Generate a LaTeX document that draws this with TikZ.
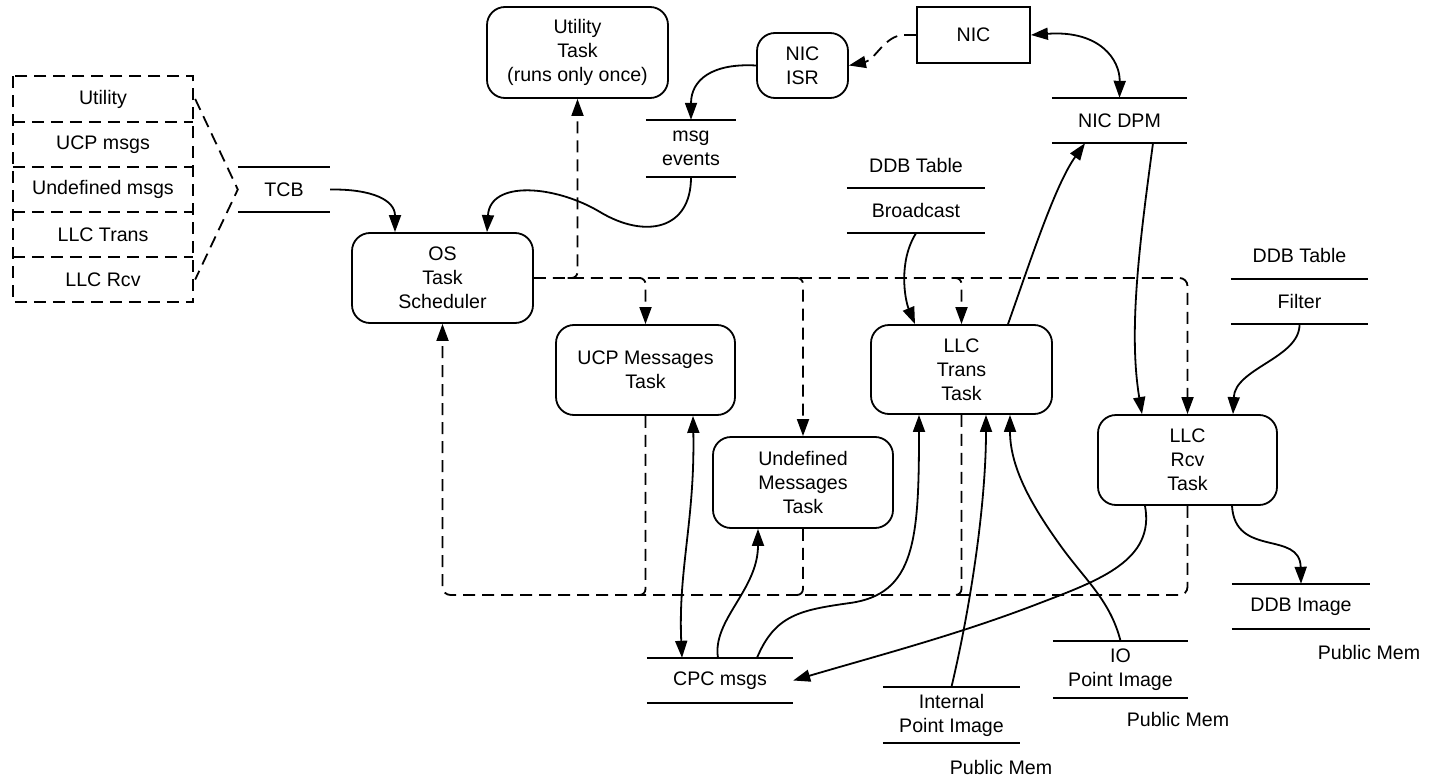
\documentclass[tikz,border=0pt]{standalone}
\usepackage{fontspec}
\setmainfont{Liberation Sans}
\usetikzlibrary{arrows.meta,calc}
\begin{document}
\begin{tikzpicture}[x=1pt,y=-1pt,
  ln/.style={line width=1.8pt},
  dsh/.style={ln,dash pattern=on 12pt off 7pt},
  tip/.style={-{Triangle[length=17pt,width=12pt]}},
  btip/.style={{Triangle[length=17pt,width=12pt]}-{Triangle[length=17pt,width=12pt]}},
  txt/.style={font=\fontsize{19.6}{24}\selectfont, align=center, inner sep=0pt},
  task/.style={txt,draw,ln,rounded corners=18pt},
  store/.style={txt},
  row/.style={txt,minimum width=180pt,minimum height=45pt}
]
\useasboundingbox (0,0) rectangle (1429,781);

% task boxes
\node[task,minimum width=181pt,minimum height=90pt] (os) at (442.5,278) {OS\\Task\\Scheduler};
\node[task,minimum width=181pt,minimum height=91pt] (util) at (577.5,52.5) {Utility\\Task\\(runs only once)};
\node[task,minimum width=91pt,minimum height=65pt] (isr) at (802.5,65.5) {NIC\\ISR};
\node[txt,draw,ln,minimum width=113pt,minimum height=56pt] (nic) at (973.5,35) {NIC};
\node[task,minimum width=179pt,minimum height=90pt] (ucp) at (645.5,370) {UCP Messages\\Task};
\node[task,minimum width=180pt,minimum height=91pt] (undef) at (803,482.5) {Undefined\\Messages\\Task};
\node[task,minimum width=181pt,minimum height=89pt] (llct) at (961.5,369.5) {LLC\\Trans\\Task};
\node[task,minimum width=179pt,minimum height=90pt] (llcr) at (1187.5,460) {LLC\\Rcv\\Task};

% stores
\node[store,minimum width=92pt,minimum height=45pt] (tcb) at (284,189.5) {TCB};
\node[store,minimum width=90pt,minimum height=57pt] (msg) at (691,148.5) {msg\\events};
\node[store,minimum width=135pt,minimum height=45pt] (dpm) at (1119.5,120.5) {NIC DPM};
\node[store,minimum width=138pt,minimum height=45pt] (bc) at (916,210.5) {Broadcast};
\node[txt] (bct) at (916,165) {DDB Table};
\node[store,minimum width=137pt,minimum height=45pt] (flt) at (1299.5,301.5) {Filter};
\node[txt] (fltt) at (1299.5,255) {DDB Table};
\node[store,minimum width=138pt,minimum height=45pt] (img) at (1301,606.5) {DDB Image};
\node[txt] (imgm) at (1369,652) {Public Mem};
\node[store,minimum width=146pt,minimum height=45pt] (cpc) at (720,680.5) {CPC msgs};
\node[store,minimum width=137pt,minimum height=56pt] (ipi) at (951.5,715) {Internal\\Point Image};
\node[txt] (ipim) at (1001,767) {Public Mem};
\node[store,minimum width=135pt,minimum height=57pt] (iop) at (1120.5,669.5) {IO\\Point Image};
\node[txt] (iopm) at (1178,719) {Public Mem};
\foreach \n in {tcb,msg,dpm,bc,flt,img,cpc,ipi,iop}
  \draw[ln] (\n.north west) -- (\n.north east) (\n.south west) -- (\n.south east);

% TCB stack
\node[row] (sU) at (103,99) {Utility};
\node[row] (sC) at (103,144.5) {UCP msgs};
\node[row] (sD) at (103,189.5) {Undefined msgs};
\node[row] (sT) at (103,234.5) {LLC Trans};
\node[row] (sR) at (103,279.5) {LLC Rcv};
\draw[dsh] (sU.north west) rectangle (sR.south east);
\foreach \n in {sC,sD,sT,sR} \draw[dsh] (\n.north west) -- (\n.north east);
\draw[dsh] ([xshift=2pt]sU.east) -- (tcb.west) -- ([xshift=2pt]sR.east);

% solid connectors
\draw[ln,tip] (tcb.east) .. controls (372,189) and (395,200) .. ([xshift=-47.5pt]os.north);
\draw[ln,tip] (msg.south) .. controls (691,230) and (645,239) .. (600,212)
   .. controls (555,185) and (490,180) .. ([xshift=44.5pt]os.north);
\draw[ln,tip] (isr.west) .. controls (712,63) and (691,80) .. (msg.north);
\draw[dsh,tip] (nic.west) -- ++(-12,0) .. controls (885,35) and (875,60) .. (isr.east);
\draw[ln,btip] (nic.east) .. controls (1100,30) and (1120,60) .. (dpm.north);
\draw[ln,tip] (bc.south) .. controls (898,262) and (905,300) .. ([xshift=-46.5pt]llct.north);
\draw[ln,tip] ([xshift=46.5pt]llct.north) .. controls (1030,262) and (1055,185) .. ([xshift=-34.5pt]dpm.south);
\draw[ln,tip] ([xshift=33.5pt]dpm.south) .. controls (1140,240) and (1128,330) .. ([xshift=-45.5pt]llcr.north);
\draw[ln,tip] (flt.south) .. controls (1300,358) and (1235,368) .. ([xshift=45.5pt]llcr.north);
\draw[ln,tip] ([xshift=44.5pt]llcr.south) .. controls (1235,558) and (1300,530) .. (img.north);
\draw[ln,tip] ([xshift=-42.5pt]llcr.south) .. controls (1155,560) and (1100,580) .. (1040,603)
   .. controls (960,634) and (880,655) .. (cpc.east);
\draw[ln,tip] ([xshift=37pt]cpc.north) .. controls (775,615) and (800,610) .. (850,603)
   .. controls (915,594) and (919,540) .. ([xshift=-42.5pt]llct.south);
\draw[ln,tip] ([xshift=-2pt]cpc.north) .. controls (712,620) and (758,590) .. ([xshift=-45pt]undef.south);
\draw[ln,btip] ([xshift=47.5pt]ucp.south) .. controls (695,520) and (678,570) .. ([xshift=-38pt]cpc.north);
\draw[ln,tip] (ipi.north) .. controls (972,600) and (986,500) .. ([xshift=24.5pt]llct.south);
\draw[ln,tip] (iop.north) .. controls (1110,600) and (1085,580) .. (1060,545)
   .. controls (1035,510) and (1010,470) .. ([xshift=48.5pt]llct.south);

% dashed scheduler network
\coordinate (ret) at (0,595);
\draw[dsh,tip,rounded corners=8pt] (os.east) -| (llcr.north);
\draw[dsh,tip,rounded corners=6pt] ($(util.south|-os.east)+(-10,0)$) -| (util.south);
\foreach \n in {ucp,undef,llct}
  \draw[dsh,tip,rounded corners=6pt] ($(\n.north|-os.east)+(-10,0)$) -| (\n.north);
\draw[dsh,tip,rounded corners=8pt] (llcr.south) |- (os.south|-ret) -- (os.south);
\foreach \n in {ucp,undef,llct}
  \draw[dsh,rounded corners=6pt] (\n.south) |- ($(\n.south|-ret)+(-10,0)$);
\end{tikzpicture}
\end{document}
